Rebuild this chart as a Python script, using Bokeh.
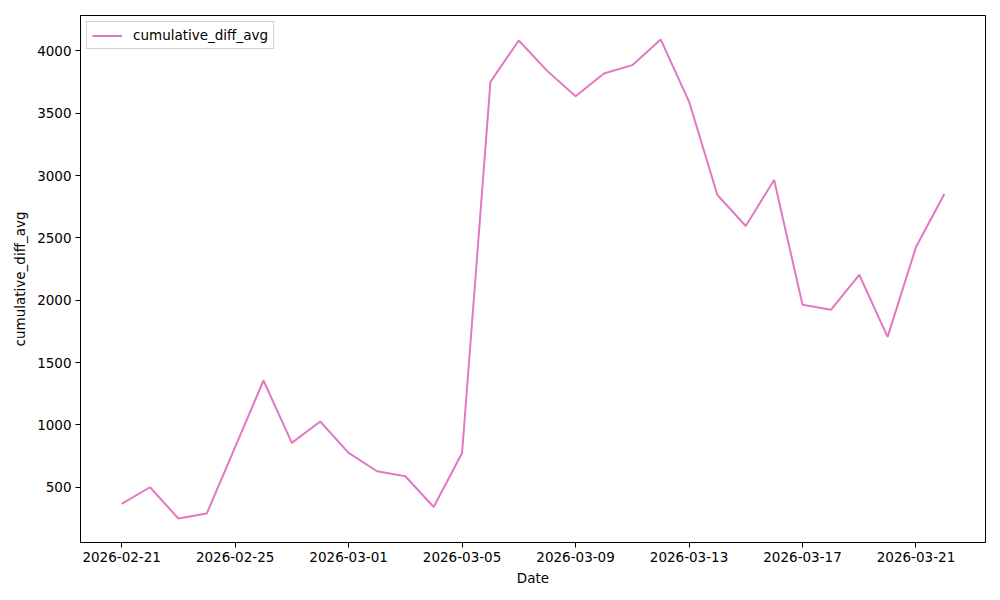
import numpy as np
import pandas as pd
from bokeh.plotting import figure
from bokeh.models import Range1d, FixedTicker, DatetimeTickFormatter, Legend, LegendItem, ColumnDataSource
from bokeh.embed import file_html
from bokeh.resources import INLINE

# ---- data ----
start_date = "2026-02-21"
n_days = 30
values = [366, 500, 249, 289, 822, 1356, 856, 1027, 775, 628,
          588, 342, 775, 3751, 4083, 3839, 3636, 3818, 3885, 4091,
          3593, 2844, 2595, 2964, 1963, 1923, 2204, 1706, 2426, 2852]
x_tick_labels = ["2026-02-21", "2026-02-25", "2026-03-01", "2026-03-05",
                 "2026-03-09", "2026-03-13", "2026-03-17", "2026-03-21"]
y_ticks = [500, 1000, 1500, 2000, 2500, 3000, 3500, 4000]
series_name = "cumulative_diff_avg"

dates = pd.date_range(start_date, periods=n_days, freq="D")
src = ColumnDataSource(dict(date=dates, v=values))

FONT = "DejaVu Sans"
FS = "13.5px"

# margins like matplotlib (5%)
t0 = dates[0].value / 1e6
t1 = dates[-1].value / 1e6
xpad = 0.05 * (t1 - t0)
vmin, vmax = min(values), max(values)
ypad = 0.05 * (vmax - vmin)

p = figure(width=992, height=592, output_backend="svg", toolbar_location=None,
           x_axis_type="datetime",
           x_range=Range1d(t0 - xpad, t1 + xpad),
           y_range=Range1d(vmin - ypad, vmax + ypad),
           min_border_left=80, min_border_right=7, min_border_top=15, min_border_bottom=50)
p.background_fill_color = "white"
p.border_fill_color = "white"
p.outline_line_color = "black"
p.outline_line_width = 1
p.xgrid.visible = False
p.ygrid.visible = False

r = p.line("date", "v", source=src, line_color="#e377c2", line_width=2)

tick_ms = [pd.Timestamp(d).value / 1e6 for d in x_tick_labels]
p.xaxis.ticker = FixedTicker(ticks=tick_ms)
p.xaxis.formatter = DatetimeTickFormatter(days="%Y-%m-%d", months="%Y-%m-%d", hours="%Y-%m-%d")
p.yaxis.ticker = FixedTicker(ticks=y_ticks)

for ax in (p.xaxis[0], p.yaxis[0]):
    ax.major_label_text_font = FONT
    ax.major_label_text_font_size = FS
    ax.major_label_text_color = "black"
    ax.axis_label_text_font = FONT
    ax.axis_label_text_font_size = FS
    ax.axis_label_text_font_style = "normal"
    ax.axis_label_text_color = "black"
    ax.major_tick_out = 5
    ax.major_tick_in = 0
    ax.minor_tick_out = 0
    ax.minor_tick_in = 0
    ax.axis_line_color = "black"
    ax.major_tick_line_color = "black"
    ax.major_label_standoff = 4

p.xaxis.axis_label = "Date"
p.yaxis.axis_label = series_name
p.xaxis.axis_label_standoff = 5
p.yaxis.axis_label_standoff = 6

legend = Legend(items=[LegendItem(label=series_name, renderers=[r])],
                location="top_left")
legend.label_text_font = FONT
legend.label_text_font_size = FS
legend.label_text_color = "black"
legend.border_line_color = "#cccccc"
legend.border_line_width = 1
legend.border_line_alpha = 0.9
legend.background_fill_alpha = 0.8
legend.margin = 6
legend.padding = 5
legend.spacing = 0
legend.glyph_width = 30
legend.glyph_height = 15
legend.label_standoff = 11
p.add_layout(legend)

open("out.html", "w").write(file_html(p, INLINE))
